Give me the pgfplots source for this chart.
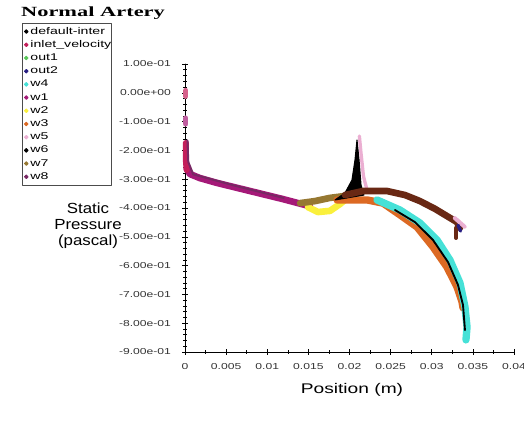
\documentclass[border=0pt]{standalone}
\usepackage{fontspec}
\setmainfont{Liberation Sans}
\newfontfamily\serifbold{Liberation Serif}
\usepackage{graphicx}
\usepackage{pgfplots}
\pgfplotsset{compat=1.18}

\definecolor{cinlet}{RGB}{195,30,90}
\definecolor{cout1}{RGB}{90,200,90}
\definecolor{cout2}{RGB}{40,30,130}
\definecolor{cw4}{RGB}{70,225,215}
\definecolor{cw1}{RGB}{165,25,120}
\definecolor{cw2}{RGB}{250,240,60}
\definecolor{cw3}{RGB}{220,105,35}
\definecolor{cw5}{RGB}{235,175,210}
\definecolor{cw6}{RGB}{105,40,20}
\definecolor{cw7}{RGB}{150,120,50}
\definecolor{cw8}{RGB}{120,40,100}

\newcommand{\hs}[2]{\scalebox{#1}[1]{#2}}
\newcommand{\yt}[1]{\hs{1.4}{#1}}
\newcommand{\lt}[1]{\makebox[58pt][l]{\hs{1.45}{#1}}}
\newcommand{\legdot}[1]{\addlegendimage{legend image code/.code={\fill[#1] (3pt,0pt) circle (1.4pt);}}}

\begin{document}
\begin{tikzpicture}
\useasboundingbox (0,0) rectangle (393pt,-319.5pt);
\begin{axis}[
  at={(138.75pt,-264pt)}, anchor=south west,
  scale only axis, width=246.75pt, height=216pt,
  xmin=0, xmax=0.04, ymin=-0.9, ymax=0.1,
  axis x line=bottom, axis y line=left,
  axis line style={-, black, line width=0.5pt},
  clip=false,
  scaled x ticks=false, scaled y ticks=false,
  tick align=center,
  major tick length=4pt, minor tick length=2.5pt,
  every tick/.style={black, line width=0.4pt},
  xtick={0,0.005,0.01,0.015,0.02,0.025,0.03,0.035,0.04},
  xticklabels={\yt{0},\yt{0.005},\yt{0.01},\yt{0.015},\yt{0.02},\yt{0.025},\yt{0.03},\yt{0.035},\yt{0.04}},
  minor x tick num=1,
  ytick={-0.9,-0.8,-0.7,-0.6,-0.5,-0.4,-0.3,-0.2,-0.1,0,0.1},
  yticklabels={\yt{-9.00e-01},\yt{-8.00e-01},\yt{-7.00e-01},\yt{-6.00e-01},\yt{-5.00e-01},\yt{-4.00e-01},\yt{-3.00e-01},\yt{-2.00e-01},\yt{-1.00e-01},\yt{0.00e+00},\yt{1.00e-01}},
  minor y tick num=4,
  tick label style={font=\fontsize{6.5}{7}\selectfont, text=black!80},
  yticklabel style={xshift=-5pt},
  xticklabel style={yshift=-3pt},
  legend style={at={(-0.4954,1.1424)}, anchor=north west, draw=black!70,
    line width=0.6pt, font=\fontsize{7.3}{8}\selectfont, inner sep=1.2pt,
    nodes={text height=5.4pt, text depth=1.6pt, inner sep=1.45pt}},
  legend cell align=left,
  line join=round, line cap=round,
]
\legdot{black}\addlegendentry{\lt{default-inter}}
\legdot{cinlet}\addlegendentry{\lt{inlet\_velocity}}
\legdot{cout1}\addlegendentry{\lt{out1}}
\legdot{cout2}\addlegendentry{\lt{out2}}
\legdot{cw4}\addlegendentry{\lt{w4}}
\legdot{cw1}\addlegendentry{\lt{w1}}
\legdot{cw2}\addlegendentry{\lt{w2}}
\legdot{cw3}\addlegendentry{\lt{w3}}
\legdot{cw5}\addlegendentry{\lt{w5}}
\legdot{black}\addlegendentry{\lt{w6}}
\legdot{cw7}\addlegendentry{\lt{w7}}
\legdot{cw8}\addlegendentry{\lt{w8}}

% trunk
\addplot[forget plot, cw1, line width=5pt] coordinates {
 (0.0002,-0.262) (0.0006,-0.282) (0.0018,-0.296) (0.0039,-0.313) (0.0079,-0.341)
 (0.0119,-0.369) (0.0152,-0.394)};
\addplot[forget plot, cinlet, line width=4.5pt] coordinates {
 (0.0001,-0.174) (0.0001,-0.233) (0.0002,-0.268)};
\addplot[forget plot, cw8, line width=1.5pt] coordinates {
 (0.0003,-0.165) (0.0004,-0.240) (0.0010,-0.283) (0.0060,-0.322) (0.0120,-0.365)};
\addplot[forget plot, cinlet!70!white, line width=4pt] coordinates {(0.0001,0.008) (0.0001,-0.012)};
\addplot[forget plot, cw1!70!white, line width=4pt] coordinates {(0.0001,-0.088) (0.0001,-0.108)};
% w2, w7
\addplot[forget plot, cw2, line width=5pt] coordinates {
 (0.01495,-0.397) (0.01617,-0.414) (0.01763,-0.410) (0.01885,-0.386) (0.01945,-0.372)};
\addplot[forget plot, cw7, line width=5pt] coordinates {
 (0.0140,-0.383) (0.0158,-0.376) (0.0176,-0.365) (0.0195,-0.358)};
% w3
\addplot[forget plot, cw3, line width=5.5pt] coordinates {
 (0.01848,-0.372) (0.02213,-0.372) (0.02407,-0.383) (0.02614,-0.424) (0.02821,-0.466)
 (0.03015,-0.535) (0.03185,-0.605) (0.03307,-0.674) (0.03368,-0.726) (0.0338,-0.747)};
% w4
\addplot[forget plot, cw4, line width=5.5pt] coordinates {
 (0.02334,-0.372) (0.02614,-0.407) (0.02857,-0.452) (0.03064,-0.511) (0.03222,-0.581)
 (0.03343,-0.660) (0.03404,-0.743) (0.03429,-0.813) (0.03416,-0.858)};
% default-interior
\addplot[forget plot, black, line width=1.4pt] coordinates {
 (0.02553,-0.407) (0.02796,-0.449) (0.03015,-0.511) (0.03198,-0.588) (0.03319,-0.667)
 (0.0338,-0.737) (0.03404,-0.824)};
\addplot[forget plot, fill=black, draw=black, line width=0.8pt] coordinates {
 (0.01824,-0.372) (0.01945,-0.348) (0.0203,-0.303) (0.02067,-0.233) (0.02091,-0.164)
 (0.02116,-0.233) (0.0214,-0.320) (0.02176,-0.355)} -- cycle;
% w5
\addplot[forget plot, cw5, line width=2.5pt] coordinates {
 (0.0212,-0.150) (0.0214,-0.210) (0.0217,-0.290) (0.0222,-0.345)};
% w6
\addplot[forget plot, cw6, line width=5pt] coordinates {
 (0.01945,-0.355) (0.02164,-0.341) (0.02456,-0.341) (0.02675,-0.355) (0.02857,-0.376)
 (0.0304,-0.403) (0.03185,-0.428) (0.03307,-0.449) (0.03343,-0.469)};
\addplot[forget plot, cw6, line width=3pt] coordinates {(0.03295,-0.469) (0.03295,-0.504)};
\addplot[forget plot, cw5, line width=3pt] coordinates {(0.0328,-0.435) (0.0340,-0.465)};
\addplot[forget plot, cout2, line width=2.5pt] coordinates {(0.0332,-0.460) (0.0335,-0.480)};
\end{axis}
\node[font=\serifbold\bfseries\fontsize{10.5}{12}\selectfont] at (69.75pt,-10pt) {\hs{1.6}{Normal Artery}};
\node[font=\fontsize{11}{12}\selectfont, align=center] at (66pt,-169.5pt)
  {\hs{1.15}{Static}\\\hs{1.15}{Pressure}\\\hs{1.15}{(pascal)}};
\node[font=\fontsize{10.5}{12}\selectfont] at (264pt,-292.5pt) {\hs{1.37}{Position (m)}};
\end{tikzpicture}
\end{document}
